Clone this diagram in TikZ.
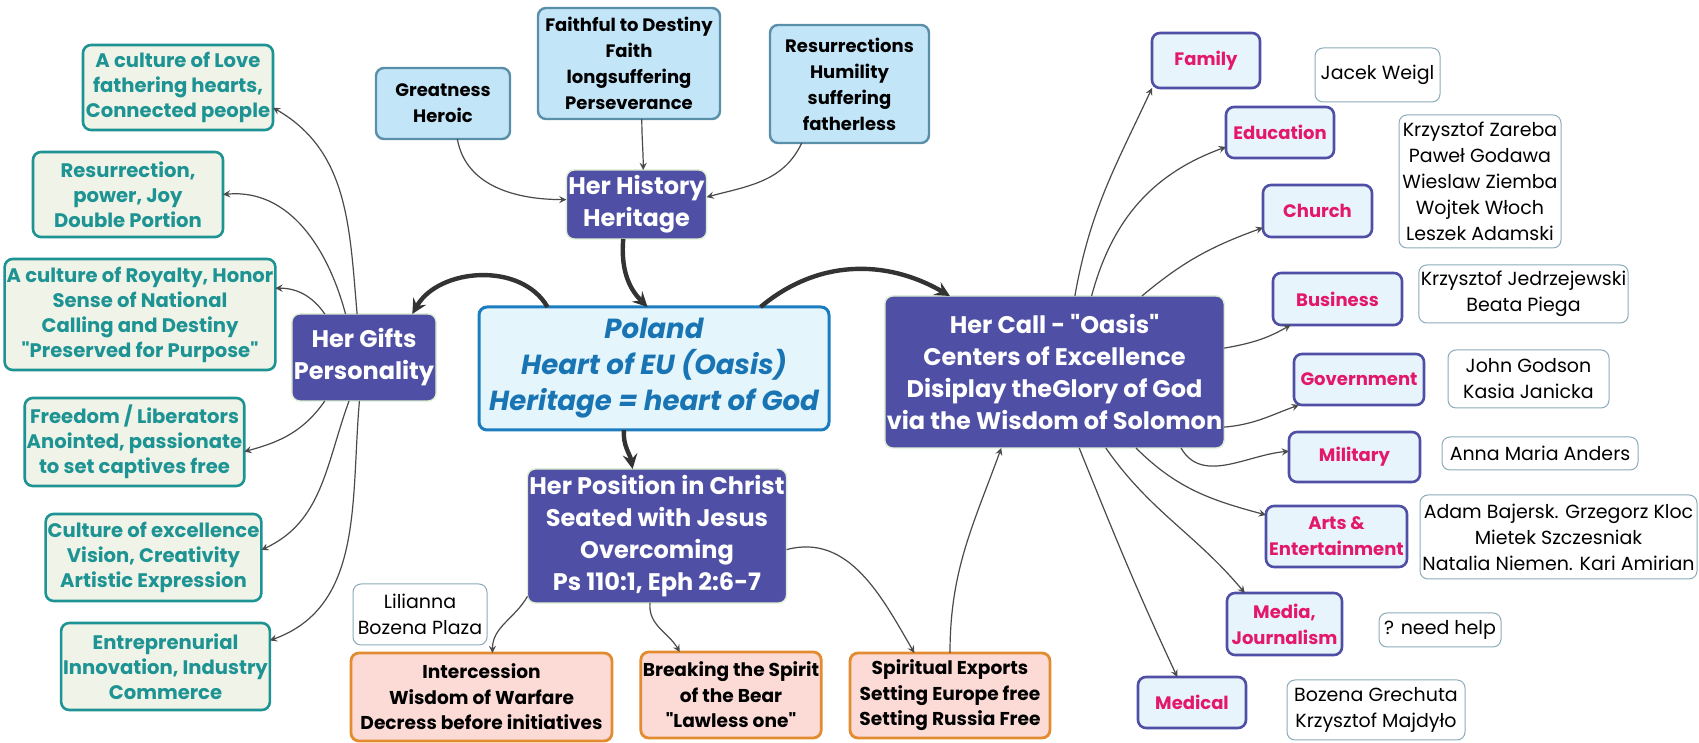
\documentclass[tikz,border=0pt]{standalone}
\usepackage{fontspec}
\setmainfont{Poppins}[Ligatures=TeXOff]
\usepackage{tikz}
\usetikzlibrary{shapes,arrows,positioning}

\definecolor{hubpurple}{HTML}{4F4FA6}
\definecolor{hubedge}{HTML}{DDEFD0}
\definecolor{giftfill}{HTML}{F0F3E7}
\definecolor{giftteal}{HTML}{1E9393}
\definecolor{histfill}{HTML}{C3E5F8}
\definecolor{histedge}{HTML}{5A8FA9}
\definecolor{polfill}{HTML}{E4F5FC}
\definecolor{poledge}{HTML}{1B7DBF}
\definecolor{poltext}{HTML}{1874B3}
\definecolor{posfill}{HTML}{FCDBD6}
\definecolor{posedge}{HTML}{E38B30}
\definecolor{callfill}{HTML}{E7F4FC}
\definecolor{calltext}{HTML}{E3176B}
\definecolor{nameedge}{HTML}{8CABB9}
\definecolor{linkgray}{HTML}{4A4A4A}

\begin{document}
\begin{tikzpicture}[x=0.5pt, y=0.5pt]
			\tikzstyle{Box}		= [rectangle, rounded corners=4pt, align=center, inner sep=1pt, outer sep=0pt]
			\tikzstyle{Hub}		= [Box, fill=hubpurple, draw=hubedge, line width=0.7pt, text=white, font=\fontsize{12}{16}\selectfont\bfseries]
			\tikzstyle{Gift}	= [Box, fill=giftfill, draw=giftteal, line width=1.3pt, text=giftteal, font=\fontsize{9.8}{12.5}\selectfont\bfseries]
			\tikzstyle{Past}	= [Box, fill=histfill, draw=histedge, line width=1.2pt, font=\fontsize{9}{13}\selectfont\bfseries]
			\tikzstyle{Core}	= [Box, fill=polfill, draw=poledge, line width=1.5pt, text=poltext, font=\fontsize{13.8}{18}\selectfont\bfseries\itshape]
			\tikzstyle{Deed}	= [Box, fill=posfill, draw=posedge, line width=1.4pt, font=\fontsize{9.3}{12.7}\selectfont\bfseries]
			\tikzstyle{Sphere}	= [Box, fill=callfill, draw=hubpurple, line width=1.3pt, text=calltext, font=\fontsize{9}{13}\selectfont\bfseries]
			\tikzstyle{Names}	= [Box, fill=white, draw=nameedge, line width=0.5pt, font=\fontsize{9.5}{13}\selectfont]
			\tikzstyle{Link}	= [linkgray, line width=0.6pt]
			\tikzstyle{Main}	= [black!80, line width=2.2pt]

			\useasboundingbox (0,0) rectangle (1699,743);
			\fill [white] (0,0) rectangle (1699,743);

			% gifts
			\node (love) at (178,655.5) [Gift][minimum width=95pt, minimum height=42.5pt] {A culture of Love\\fathering hearts,\\Connected people};
			\node (resur) at (128,548.5) [Gift][minimum width=95pt, minimum height=42.5pt] {Resurrection,\\power, Joy\\Double Portion};
			\node (royal) at (140,428.5) [Gift][minimum width=130pt, minimum height=55.5pt] {A culture of Royalty, Honor\\Sense of National\\Calling and Destiny\\"Preserved for Purpose"};
			\node (freedom) at (134.5,301) [Gift][minimum width=104.5pt, minimum height=44pt] {Freedom / Liberators\\Anointed, passionate\\to set captives free};
			\node (excel) at (153.5,185.5) [Gift][minimum width=105.5pt, minimum height=43.5pt] {Culture of excellence\\Vision, Creativity\\Artistic Expression};
			\node (entre) at (165.5,76.5) [Gift][minimum width=96.5pt, minimum height=43.5pt] {Entreprenurial\\Innovation, Industry\\Commerce};
			\node (gifts) at (364,385.5) [Hub][minimum width=70pt, minimum height=43.5pt] {Her Gifts\\Personality};

			% history
			\node (great) at (443,639.5) [Past][minimum width=67pt, minimum height=35.5pt] {Greatness\\Heroic};
			\node (faith) at (629,679.5) [Past][minimum width=91pt, minimum height=55.5pt] {Faithful to Destiny\\Faith\\longsuffering\\Perseverance};
			\node (resurr) at (849.5,659) [Past][minimum width=79.5pt, minimum height=59pt] {Resurrections\\Humility\\suffering\\fatherless};
			\node (history) at (636.5,538.5) [Hub][minimum width=67.5pt, minimum height=34.5pt] {Her History\\Heritage};

			% centre
			\node (poland) at (654,374.5) [Core][minimum width=175pt, minimum height=61.5pt] {Poland\\Heart of EU (Oasis)\\Heritage = heart of God};
			\node (call) at (1054.5,371) [Hub][minimum width=168.5pt, minimum height=76pt] {Her Call - "Oasis"\\Centers of Excellence\\Disiplay theGlory of God\\via the Wisdom of Solomon};
			\node (position) at (657,207) [Hub][minimum width=125pt, minimum height=67pt] {Her Position in Christ\\Seated with Jesus\\Overcoming\\Ps 110:1, Eph 2:6-7};

			% position
			\node (inter) at (481.5,46) [Deed][minimum width=130.5pt, minimum height=44pt] {Intercession\\Wisdom of Warfare\\Decress before initiatives};
			\node (bear) at (731,48) [Deed][minimum width=89.5pt, minimum height=43pt] {Breaking the Spirit\\of the Bear\\"Lawless one"};
			\node (exports) at (950,47.5) [Deed][minimum width=100pt, minimum height=42.5pt] {Spiritual Exports\\Setting Europe free\\Setting Russia Free};
			\node (lili) at (420,128.5) [Names][minimum width=67pt, minimum height=30.5pt] {Lilianna\\Bozena Plaza};

			% spheres
			\node (family) at (1206,682.5) [Sphere][minimum width=54pt, minimum height=27.5pt] {Family};
			\node (edu) at (1280,610.5) [Sphere][minimum width=54pt, minimum height=25.5pt] {Education};
			\node (church) at (1317.5,532) [Sphere][minimum width=54.5pt, minimum height=26pt] {Church};
			\node (business) at (1337.5,444) [Sphere][minimum width=64.5pt, minimum height=26pt] {Business};
			\node (govt) at (1359,363.5) [Sphere][minimum width=65pt, minimum height=25.5pt] {Government};
			\node (military) at (1354.5,286) [Sphere][minimum width=65.5pt, minimum height=25pt] {Military};
			\node (arts) at (1336.5,206.5) [Sphere][minimum width=70.5pt, minimum height=30.5pt] {Arts \&\\Entertainment};
			\node (media) at (1284.5,119) [Sphere][minimum width=57.5pt, minimum height=31pt] {Media,\\Journalism};
			\node (medical) at (1192,40.5) [Sphere][minimum width=54pt, minimum height=25.5pt] {Medical};

			\node (jacek) at (1377.5,668) [Names][minimum width=62.5pt, minimum height=27pt] {Jacek Weigl};
			\node (krz) at (1480,561.5) [Names][minimum width=81pt, minimum height=66.5pt] {Krzysztof Zareba\\Paweł Godawa\\Wieslaw Ziemba\\Wojtek Włoch\\Leszek Adamski};
			\node (jedr) at (1523.5,449) [Names][minimum width=103.5pt, minimum height=29pt] {Krzysztof Jedrzejewski\\Beata Piega};
			\node (godson) at (1528.5,364) [Names][minimum width=80.5pt, minimum height=29pt] {John Godson\\Kasia Janicka};
			\node (anna) at (1540,289.5) [Names][minimum width=98pt, minimum height=16.5pt] {Anna Maria Anders};
			\node (adam) at (1558.5,206) [Names][minimum width=138.5pt, minimum height=42pt] {Adam Bajersk. Grzegorz Kloc\\Mietek Szczesniak\\Natalia Niemen. Kari Amirian};
			\node (help) at (1440,113) [Names][minimum width=61pt, minimum height=17pt] {? need help};
			\node (grech) at (1376,33) [Names][minimum width=89pt, minimum height=30pt] {Bozena Grechuta\\Krzysztof Majdyło};

			% links
			\draw [-stealth] (gifts.99) to [out=95, in=-30] (love.-12) [Link];
			\draw [-stealth] (gifts.113) to [out=105, in=5] (resur.east) [Link];
			\draw [-stealth] (gifts.132) to [out=125, in=0] (royal.11) [Link];
			\draw [-stealth] (gifts.228) to [out=235, in=15] (freedom.-5) [Link];
			\draw [-stealth] (gifts.251) to [out=250, in=25] (excel.4) [Link];
			\draw [-stealth] (gifts.264) to [out=265, in=20] (entre.14) [Link];

			\draw [-stealth] (great.-68) to [out=-80, in=180] (history.176) [Link];
			\draw [-stealth] (faith.-77) to [out=-90, in=90] (history.79) [Link];
			\draw [-stealth] (resurr.231) to [out=-115, in=15] (history.6) [Link];

			\draw [-stealth] (history.249) to [out=-95, in=135] (poland.96) [Main];
			\draw [-stealth] (poland.150) to [out=120, in=60] (gifts.42) [Main];
			\draw [-stealth] (poland.30) to [out=40, in=150] (call.144) [Main];
			\draw [-stealth] (poland.244) to [out=-95, in=100] (position.110) [Main];

			\draw [-stealth] (position.205) to [out=240, in=90] (inter.76) [Link];
			\draw [-stealth] (position.264) to [out=-95, in=120] (bear.140) [Link];
			\draw [-stealth] (position.-6) to [out=15, in=120] (exports.130) [Link];
			\draw [-stealth] (exports.north) to [out=90, in=250] (call.235) [Link];

			\draw [-stealth] (call.75) to [out=80, in=245] (family.207) [Link];
			\draw [-stealth] (call.64) to [out=75, in=200] (edu.195) [Link];
			\draw [-stealth] (call.41) to [out=40, in=200] (church.197) [Link];
			\draw [-stealth] (call.8) to [out=10, in=210] (business.209) [Link];
			\draw [-stealth] (call.-18) to [out=5, in=200] (govt.203) [Link];
			\draw [-stealth] (call.-31) to [out=-60, in=185] (military.175) [Link];
			\draw [-stealth] (call.-43) to [out=-45, in=165] (arts.163) [Link];
			\draw [-stealth] (call.-56) to [out=-55, in=130] (media.142) [Link];
			\draw [-stealth] (call.-72) to [out=-68, in=115] (medical.120) [Link];
		\end{tikzpicture}
\end{document}
